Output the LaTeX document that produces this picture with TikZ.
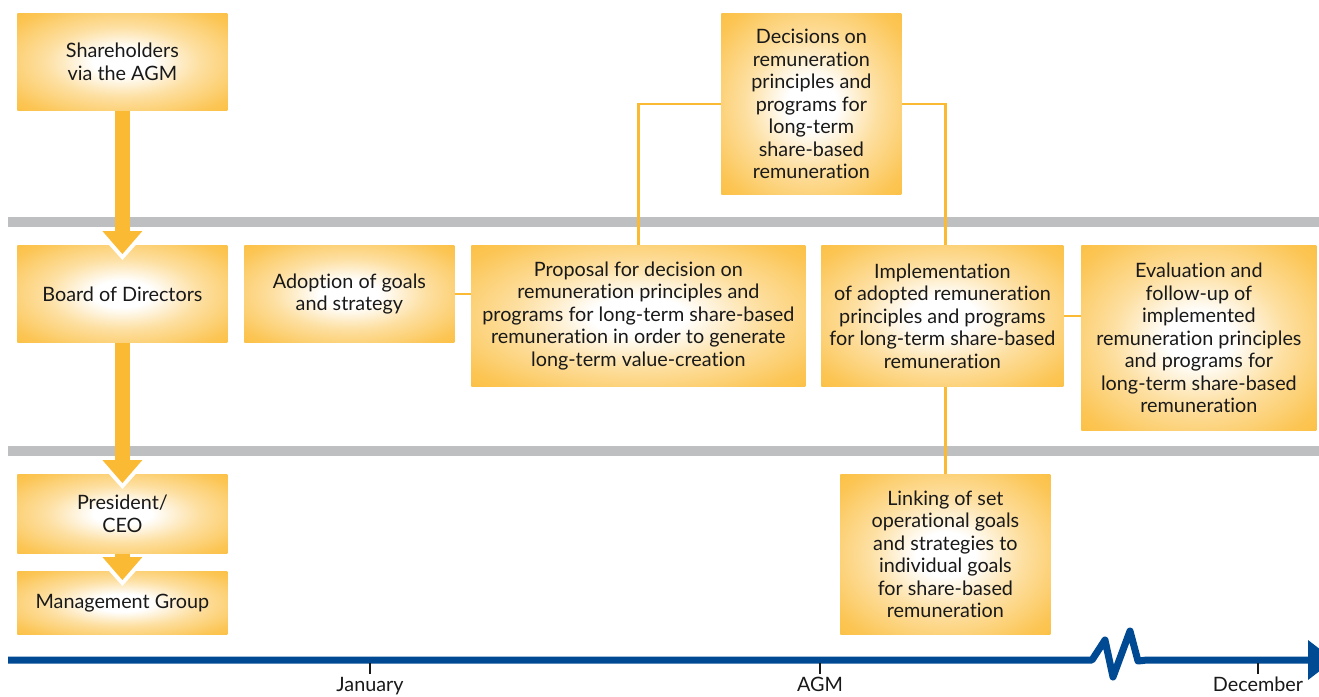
\documentclass[tikz,border=0pt]{standalone}
\usepackage{fontspec}
\setmainfont{Lato}[Ligatures=NoCommon]
\usetikzlibrary{arrows.meta}

\definecolor{boxorange}{RGB}{251,186,51}
\definecolor{bandgray}{RGB}{190,191,193}
\definecolor{lineblue}{RGB}{0,74,147}
\definecolor{inkblack}{RGB}{25,25,25}

\pgfdeclareradialshading{boxglow}{\pgfpoint{0bp}{0bp}}{%
  color(0bp)=(white); color(7bp)=(white);
  color(18bp)=(boxorange!45!white); color(32bp)=(boxorange!85!white);
  color(43bp)=(boxorange); color(50bp)=(boxorange)}

\tikzset{
  box/.style={shade, shading=boxglow, align=center, inner sep=0pt,
    text=inkblack, font=\fontsize{9.9}{11.25}\selectfont},
  thinlink/.style={draw=boxorange, line width=1.3pt},
  band/.style={draw=bandgray, line width=5pt},
  timeline/.style={draw=lineblue, line width=3.5pt, line join=round},
  monthlbl/.style={anchor=north, inner sep=1.5pt, text=inkblack,
    font=\fontsize{9.9}{11.25}\selectfont}
}

\begin{document}
\begin{tikzpicture}[x=0.5pt,y=0.5pt,yscale=-1,xscale=1]
	\useasboundingbox (0,0) rectangle (1319,697);

	%Straight Lines: gray bands
	\draw [band] (8,222) -- (1319,222) ;
	\draw [band] (8,451) -- (1319,451) ;

	%Shape: Rectangle (left column)
	\draw (17,13) node [anchor=north west][box, minimum width=105pt, minimum height=48.5pt] (share) {Shareholders\\via the AGM};
	\draw (17,245) node [anchor=north west][box, minimum width=105pt, minimum height=48.5pt] (board) {Board of Directors};
	\draw (17,474) node [anchor=north west][box, minimum width=105pt, minimum height=39.5pt] (ceo) {President/\\CEO};
	\draw (17,571) node [anchor=north west][box, minimum width=105pt, minimum height=31.5pt] (mgmt) {Management Group};

	%Shape: Rectangle (process boxes)
	\draw (244,245) node [anchor=north west][box, minimum width=105pt, minimum height=48.5pt] (adopt) {Adoption of goals\\and strategy};
	\draw (471,245) node [anchor=north west][box, minimum width=167pt, minimum height=70.5pt] (prop) {Proposal for decision on\\remuneration principles and\\programs for long-term share-based\\remuneration in order to generate\\long-term value-creation};
	\draw (721,13) node [anchor=north west][box, minimum width=90pt, minimum height=90.5pt] (decide) {Decisions on\\remuneration\\principles and\\programs for\\long-term\\share-based\\remuneration};
	\draw (821,245) node [anchor=north west][box, minimum width=121pt, minimum height=70.5pt] (impl) {Implementation\\of adopted remuneration\\principles and programs\\for long-term share-based\\remuneration};
	\draw (1081,245) node [anchor=north west][box, minimum width=117.5pt, minimum height=92.5pt] (eval) {Evaluation and\\follow-up of\\implemented\\remuneration principles\\and programs for\\long-term share-based\\remuneration};
	\draw (840,474) node [anchor=north west][box, minimum width=105pt, minimum height=80pt] (link) {Linking of set\\operational goals\\and strategies to\\individual goals\\for share-based\\remuneration};

	%Straight Lines: thin links
	\draw [thinlink] (adopt.east) -- (adopt.east -| prop.west) ;
	\draw [thinlink] (impl.east) -- (impl.east -| eval.west) ;
	\draw [thinlink] (prop.north) |- (decide.west) ;
	\draw [thinlink] (decide.east) -| (link.north |- impl.north) ;
	\draw [thinlink] (link.north |- impl.south) -- (link.north) ;

	%Straight Lines: thick arrows
	\foreach \a/\b in {share/board,board/ceo,ceo/mgmt}{
	\draw [white, line width=7.5pt, shorten >=-7.5pt, -{Triangle[width=26pt,length=14.5pt,line width=0pt]}] (\a.south) -- (\b.north) ;
	\draw [boxorange, line width=7.5pt, shorten >=-4.5pt, -{Triangle[width=20pt,length=11.5pt,line width=0pt]}] (\a.south) -- (\b.north) ;
	}

	%Straight Lines: time axis
	\draw [timeline, -{Triangle[width=20pt,length=13pt,line width=0pt]}] (8,660) -- (1092,660) -- (1105,640) -- (1113,677) -- (1130,631) -- (1138,661) -- (1147,660) -- (1334,660) ;

	\coordinate (jan) at (370,663) ;
	\coordinate (agm) at (820,663) ;
	\coordinate (dec) at (1258,663) ;
	% Text Node
	\draw (370,674) node [monthlbl] (janlbl) {January};
	\draw (820,674) node [monthlbl] (agmlbl) {AGM};
	\draw (1258,674) node [monthlbl] (declbl) {December};
	\foreach \t in {jan,agm,dec}{
	\draw [inkblack, line width=0.7pt] (\t) -- (\t lbl.north) ;
	}

\end{tikzpicture}
\end{document}
